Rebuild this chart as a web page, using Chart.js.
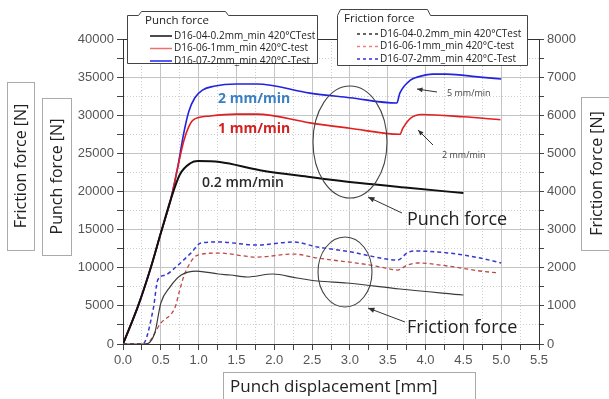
<!DOCTYPE html>
<html>
<head>
<meta charset="utf-8">
<script src="https://cdn.jsdelivr.net/npm/chart.js@4/dist/chart.umd.min.js"></script>
<style>
html,body{margin:0;padding:0;background:#fff;}
#wrap{width:609px;height:399px;position:relative;}
</style>
</head>
<body>
<div id="wrap"><canvas id="c" width="609" height="399"></canvas></div>
<script>
// ---- Data ----
// Punch force [N] (left axis)
const punch02X = [0,0.2,0.37,0.5,0.63,0.75,0.89,0.99,1.28,1.81,2.47,3.13,3.8,4.5];
const punch02Y = [0,5000,10100,14550,18900,22200,23700,24000,23870,22800,21900,21100,20450,19800];
const punch1X = [0,0.2,0.37,0.5,0.63,0.72,0.8,0.87,0.93,1.15,1.5,1.77,2.47,3.0,3.66,3.7,3.8,3.95,4.5,4.99];
const punch1Y = [0,5000,10100,14550,18900,23000,26500,28500,29400,29900,30150,30150,29000,28300,27500,28300,29600,30100,29800,29400];
const punch2X = [0,0.2,0.37,0.5,0.63,0.72,0.8,0.87,0.95,1.05,1.2,1.5,1.77,2.47,3.0,3.62,3.66,3.8,3.89,4.1,4.28,4.72,5.0];
const punch2Y = [0,5000,10100,14550,18900,23000,27500,30500,32300,33300,33800,34100,34100,32900,32300,31600,32900,34600,35000,35400,35400,35000,34750];
// Friction force [N] (right axis)
const fric02X = [0,0.3,0.42,0.5,0.62,0.77,0.97,1.26,1.42,1.64,1.98,2.3,2.57,2.96,3.66,4.5];
const fric02Y = [0,0,290,1074,1494,1810,1914,1836,1810,1758,1836,1731,1652,1600,1442,1285];
const fric1X = [0,0.3,0.5,0.69,0.75,0.82,0.99,1.26,1.77,2.25,2.57,3.27,3.4,3.63,3.76,3.89,4.29,4.72,4.97];
const fric1Y = [0,0,550,970,1416,1860,2334,2386,2280,2360,2255,2070,2020,1940,2070,2125,2046,1915,1862];
const fric2X = [0,0.26,0.4,0.46,0.56,0.7,0.9,1.03,1.26,1.77,2.25,2.57,3.0,3.27,3.4,3.63,3.76,3.84,4.29,4.72,5.0];
const fric2Y = [0,0,920,1680,1810,2020,2390,2650,2675,2597,2675,2544,2420,2308,2256,2200,2390,2440,2390,2256,2125];

const seriesNames = ['D16-04-0.2mm_min 420°CTest','D16-06-1mm_min 420°C-test','D16-07-2mm_min 420°C-Test'];
const xRange = [0, 5.5], xStep = 0.25, xLabelStep = 0.5;
const yLeftRange = [0, 40000], yLeftStep = 2500, yLeftLabelStep = 5000;
const yRightRange = [0, 8000], yRightStep = 500, yRightLabelStep = 1000;

function pts(xs, ys){ return xs.map((x,i)=>({x:x, y:ys[i]})); }
function isMult(v, s){ const r = v/s; return Math.abs(r - Math.round(r)) < 1e-6; }

const FONT_T = "'Liberation Sans', Arial, sans-serif";
const FONT_S = "'Open Sans', 'Noto Sans', sans-serif";

const decor = {
  id:'decor',
  afterDraw(chart){
    const ctx = chart.ctx, a = chart.chartArea;
    ctx.save();
    // frame top/right
    ctx.strokeStyle = '#333'; ctx.lineWidth = 1;
    ctx.beginPath(); ctx.moveTo(a.left, a.top+0.5); ctx.lineTo(a.right, a.top+0.5); ctx.stroke();

    // axis title boxes
    function vbox(x0,y0,w,h,text,size){
      ctx.strokeStyle = '#aaa'; ctx.lineWidth = 1;
      ctx.strokeRect(x0+0.5,y0+0.5,w,h);
      ctx.save();
      ctx.translate(x0+w/2, y0+h/2);
      ctx.rotate(-Math.PI/2);
      ctx.fillStyle = '#222'; ctx.font = size+'px '+FONT_S;
      ctx.textAlign='center'; ctx.textBaseline='middle';
      ctx.fillText(text,0,1);
      ctx.restore();
    }
    vbox(7,82,27,168,'Friction force [N]',16);
    vbox(42,98,29,157,'Punch force [N]',16);
    vbox(581,97,30,153,'Friction force [N]',16);
    ctx.strokeStyle = '#aaa';
    ctx.strokeRect(223.5,372.5,252,30);
    ctx.fillStyle='#222'; ctx.font='17px '+FONT_S; ctx.textAlign='left'; ctx.textBaseline='middle';
    ctx.fillText('Punch displacement [mm]',230,387);

    // legends
    function legend(l, r, tabL, tabR, top, boxTop, bottom, title, entries, dashed){
      ctx.fillStyle='#fff'; ctx.strokeStyle='#444'; ctx.lineWidth=1;
      ctx.beginPath();
      ctx.moveTo(l+0.5, bottom+0.5);
      ctx.lineTo(l+0.5, boxTop+0.5);
      ctx.lineTo(tabL+0.5, boxTop+0.5);
      ctx.lineTo(tabL+3.5, top+0.5);
      ctx.lineTo(tabR-2.5, top+0.5);
      ctx.lineTo(tabR+0.5, boxTop+0.5);
      ctx.lineTo(r+0.5, boxTop+0.5);
      ctx.lineTo(r+0.5, bottom+0.5);
      ctx.closePath(); ctx.fill(); ctx.stroke();
      ctx.fillStyle='#222'; ctx.font='11.5px '+FONT_S; ctx.textAlign='left'; ctx.textBaseline='middle';
      ctx.fillText(title, tabL+7, top+10);
      entries.forEach((e,i)=>{
        const y = top+25+i*12.5;
        ctx.strokeStyle=e.color; ctx.lineWidth=1.5;
        ctx.setLineDash(dashed?[3,3]:[]);
        ctx.beginPath(); ctx.moveTo(e.lx0, y); ctx.lineTo(e.lx1, y); ctx.stroke();
        ctx.setLineDash([]);
        ctx.fillStyle='#222'; ctx.font='10px '+FONT_S;
        ctx.fillText(e.text, e.lx1+2, y);
      });
    }
    legend(127,317,138,228,11,15,63,'Punch force',[
      {color:'#111',text:seriesNames[0],lx0:150,lx1:172},
      {color:'#f07070',text:seriesNames[1],lx0:150,lx1:172},
      {color:'#2020ff',text:seriesNames[2],lx0:150,lx1:172}],false);
    legend(337,527,337,430,9,15,65,'Friction force',[
      {color:'#333',text:seriesNames[0],lx0:357,lx1:378},
      {color:'#f08080',text:seriesNames[1],lx0:357,lx1:378},
      {color:'#3030e0',text:seriesNames[2],lx0:357,lx1:378}],true);

    // annotations
    ctx.textAlign='left'; ctx.textBaseline='middle';
    ctx.font='bold 14px '+FONT_S;
    ctx.fillStyle='#3a7fc2'; ctx.fillText('2 mm/min',218,99);
    ctx.fillStyle='#d42020'; ctx.fillText('1 mm/min',218,129);
    ctx.fillStyle='#2a2a2a'; ctx.font='600 14px '+FONT_S; ctx.fillText('0.2 mm/min',202,183);
    ctx.fillStyle='#444'; ctx.font='9px '+FONT_S;
    ctx.fillText('5 mm/min',447,93);
    ctx.fillText('2 mm/min',442,155);
    ctx.fillStyle='#222'; ctx.font='18px '+FONT_S;
    ctx.fillText('Punch force',407,220);
    ctx.fillText('Friction force',407,328);

    // ellipses
    ctx.strokeStyle='#444'; ctx.lineWidth=1.1;
    ctx.beginPath(); ctx.ellipse(350,142,37,56,0,0,Math.PI*2); ctx.stroke();
    ctx.beginPath(); ctx.ellipse(345,272,27,35,0,0,Math.PI*2); ctx.stroke();

    function arrow(x0,y0,x1,y1,head){
      ctx.strokeStyle='#333'; ctx.fillStyle='#333'; ctx.lineWidth=1;
      ctx.beginPath(); ctx.moveTo(x0,y0); ctx.lineTo(x1,y1); ctx.stroke();
      const ang=Math.atan2(y1-y0,x1-x0);
      ctx.beginPath(); ctx.moveTo(x1,y1);
      ctx.lineTo(x1-head*Math.cos(ang-0.4), y1-head*Math.sin(ang-0.4));
      ctx.lineTo(x1-head*Math.cos(ang+0.4), y1-head*Math.sin(ang+0.4));
      ctx.closePath(); ctx.fill();
    }
    arrow(437,92,417,89,6);
    arrow(433,145,418,130,6);
    arrow(402,213,368,197,7);
    arrow(405,322,368,308,7);
    ctx.restore();
  }
};

function ds(label, xs, ys, color, axis, width, dash){
  return {label:label, data:pts(xs,ys), borderColor:color, backgroundColor:color,
    yAxisID:axis, borderWidth:width, borderDash:dash||[], pointRadius:0,
    cubicInterpolationMode:'monotone', fill:false};
}

new Chart(document.getElementById('c'), {
  type:'line',
  data:{datasets:[
    ds('fric02', fric02X, fric02Y, '#3a3a3a', 'y1', 1.2),
    ds('fric1', fric1X, fric1Y, '#c04848', 'y1', 1.3, [4,3]),
    ds('fric2', fric2X, fric2Y, '#3838d0', 'y1', 1.5, [4,3]),
    ds('punch02', punch02X, punch02Y, '#111', 'y', 2),
    ds('punch1', punch1X, punch1Y, '#e02020', 'y', 1.6),
    ds('punch2', punch2X, punch2Y, '#2222e0', 'y', 1.6)
  ]},
  options:{
    responsive:false, animation:false,
    layout:{padding:{top:39,left:0,right:0,bottom:0}},
    plugins:{legend:{display:false}, tooltip:{enabled:false}},
    scales:{
      x:{type:'linear', min:xRange[0], max:xRange[1],
        afterFit(s){ s.height = 55; },
        afterBuildTicks(s){ s.ticks = []; for(let v=xRange[0]; v<=xRange[1]+1e-9; v+=xStep) s.ticks.push({value:+v.toFixed(4)}); },
        ticks:{autoSkip:false, maxRotation:0, padding:3, color:'#555', font:{family:FONT_T,size:13},
          callback:(v)=> isMult(v,xLabelStep) ? v.toFixed(1) : ''},
        grid:{color:(c)=> c.tick && isMult(c.tick.value,xLabelStep) ? '#c4c4c4' : '#cfcfcf',
          lineWidth:1, tickLength:6, tickColor:'#444'},
        border:{color:'#333', width:1, dash:(c)=> (c.tick && !isMult(c.tick.value,xLabelStep)) ? [1,2] : []}
      },
      y:{type:'linear', position:'left', min:yLeftRange[0], max:yLeftRange[1],
        afterFit(s){ s.width = 123; },
        afterBuildTicks(s){ s.ticks = []; for(let v=yLeftRange[0]; v<=yLeftRange[1]; v+=yLeftStep) s.ticks.push({value:v}); },
        ticks:{autoSkip:false, padding:3, color:'#555', font:{family:FONT_T,size:13},
          callback:(v)=> isMult(v,yLeftLabelStep) ? String(v) : ''},
        grid:{color:(c)=> c.tick && isMult(c.tick.value,yLeftLabelStep) ? '#c4c4c4' : '#cfcfcf',
          lineWidth:1, tickLength:6, tickColor:'#444'},
        border:{color:'#333', width:1, dash:(c)=> (c.tick && !isMult(c.tick.value,yLeftLabelStep)) ? [1,2] : []}
      },
      y1:{type:'linear', position:'right', min:yRightRange[0], max:yRightRange[1],
        afterFit(s){ s.width = 70; },
        afterBuildTicks(s){ s.ticks = []; for(let v=yRightRange[0]; v<=yRightRange[1]; v+=yRightStep) s.ticks.push({value:v}); },
        ticks:{autoSkip:false, padding:3, color:'#555', font:{family:FONT_T,size:13},
          callback:(v)=> isMult(v,yRightLabelStep) ? String(v) : ''},
        grid:{drawOnChartArea:false, tickLength:5, tickColor:'#444'},
        border:{color:'#333', width:1}
      }
    }
  },
  plugins:[decor]
});
</script>
</body>
</html>
